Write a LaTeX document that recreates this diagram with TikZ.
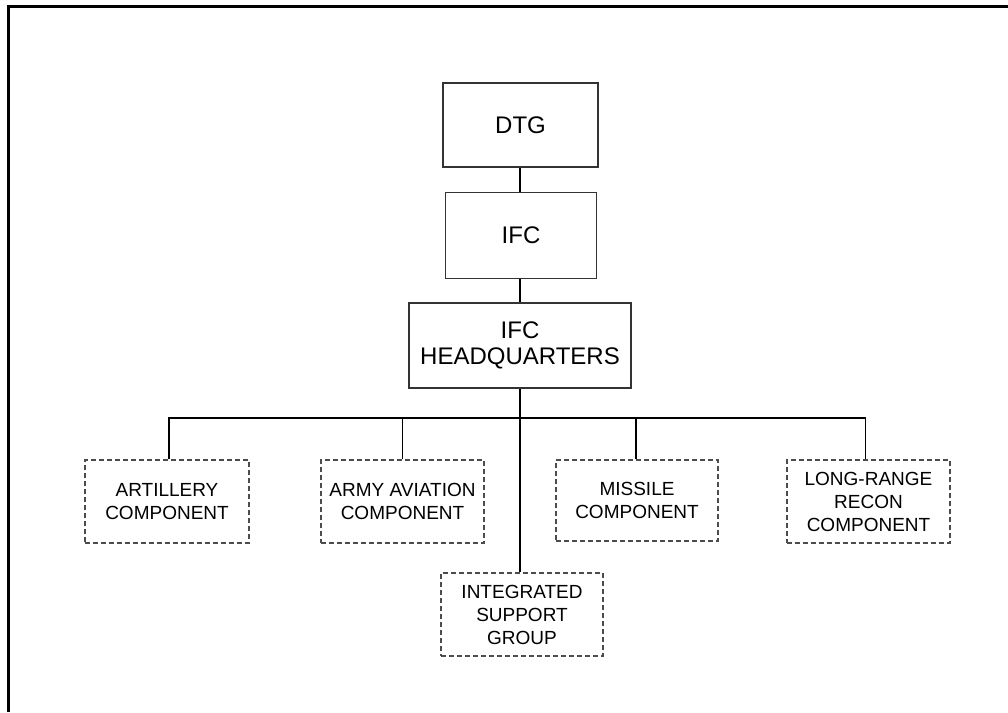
\documentclass[tikz,border=0pt]{standalone}
\usepackage{fontspec}
\setmainfont{Liberation Sans}
\begin{document}
\begin{tikzpicture}[x=1pt,y=-1pt,
  topbox/.style={draw=black!80,line width=1.2pt,align=center,inner sep=0pt,
    font=\fontsize{24}{25.5}\selectfont},
  subbox/.style={draw=black!70,dash pattern=on 5pt off 3pt,line width=1.2pt,
    align=center,inner sep=0pt,font=\fontsize{19}{23}\selectfont},
  link/.style={draw=black,line width=1.3pt}]
\useasboundingbox (0,0) rectangle (1008,712);
\draw[line width=3pt] (8.5,712) -- (8.5,6.5) -- (1008,6.5);
\node[topbox,minimum width=155pt,minimum height=84pt] (dtg) at (520.5,125) {DTG};
\node[topbox,minimum width=151pt,minimum height=86pt] (ifc) at (521,235.5) {IFC};
\node[topbox,minimum width=222pt,minimum height=85pt] (hq) at (520,345.5) {IFC\\HEADQUARTERS};
\node[subbox,minimum width=164pt,minimum height=83pt] (art) at (167,501.5) {ARTILLERY\\COMPONENT};
\node[subbox,minimum width=163pt,minimum height=83pt] (avn) at (402.5,501.5) {ARMY AVIATION\\COMPONENT};
\node[subbox,minimum width=162pt,minimum height=81pt] (mis) at (637,500.5) {MISSILE\\COMPONENT};
\node[subbox,minimum width=163pt,minimum height=83pt] (lrr) at (868.5,501.5) {LONG-RANGE\\RECON\\COMPONENT};
\node[subbox,minimum width=162pt,minimum height=83pt] (isg) at (522,614.5) {INTEGRATED\\SUPPORT\\GROUP};
\coordinate (bus) at (520,418);
\draw[link] (dtg.south -| 520,0) -- (ifc.north -| 520,0);
\draw[link] (ifc.south -| 520,0) -- (hq.north -| 520,0);
\draw[link] (hq.south) -- (hq.south |- isg.north);
\draw[link] ([xshift=2pt]art.north) |- (bus) -| ([xshift=-3pt]lrr.north);
\draw[link] (avn.north) -- (avn.north |- bus);
\draw[link] ([xshift=-1pt]mis.north) -- ([xshift=-1pt]mis.north |- bus);
\end{tikzpicture}
\end{document}
